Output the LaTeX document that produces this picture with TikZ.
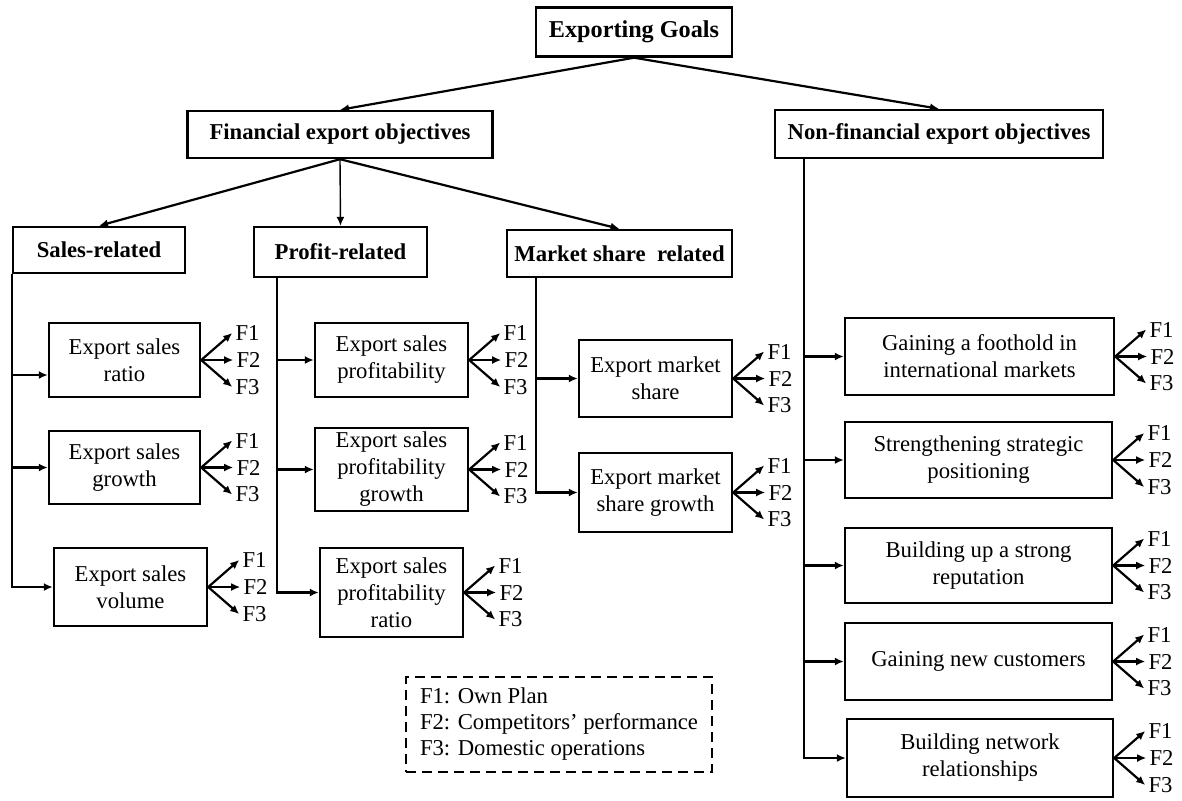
\documentclass[tikz,border=0pt]{standalone}
\usepackage{fontspec}
\setmainfont{Liberation Serif}
\usetikzlibrary{arrows.meta, positioning}

\begin{document}
\begin{tikzpicture}[
  x=0.5pt, y=-0.5pt,
  box/.style={
    rectangle,
    draw,
    line width=1.2pt,
    align=center,
    inner sep=2pt
  },
  head/.style={box, font=\bfseries\fontsize{11.35}{13.5}\selectfont},
  dims/.style 2 args={minimum width=#1*0.5pt, minimum height=#2*0.5pt},
  arrow/.style={-{Latex[length=4.5pt, width=4pt]}, line width=1.1pt},
  flabel/.style={anchor=west, inner sep=1.5pt},
  every node/.append style={font=\fontsize{11.35}{13.5}\selectfont}
]
\useasboundingbox (0,0) rectangle (1182,800);

% Top levels
\node[head, dims={196}{49}, font=\bfseries\fontsize{12.1}{14}\selectfont] (goals) at (634,32) {Exporting Goals};
\node[head, dims={305}{47}] (fin) at (340,134.5) {Financial export objectives};
\node[head, dims={328}{48}] (nonfin) at (939,134) {Non-financial export objectives};

% Financial groups
\node[head, dims={172}{46}] (sales) at (99,250) {Sales-related};
\node[head, dims={173}{50}] (profit) at (340.5,252) {Profit-related};
\node[head, dims={225}{47}] (market) at (619.5,253.5) {Market share~ related};

% Sales-related measures
\node[box, dims={151}{74}] (ratio) at (124.5,360) {Export sales\\ratio};
\node[box, dims={151}{73}] (sgrowth) at (124.5,467.5) {Export sales\\growth};
\node[box, dims={153}{78}] (volume) at (130.5,587) {Export sales\\volume};

% Profit-related measures
\node[box, dims={153}{74}] (profitab) at (391.5,360) {Export sales\\profitability};
\node[box, dims={153}{77}] (pgrowth) at (391.5,469.5) {Export sales\\profitability\\growth};
\node[box, dims={143}{89}] (pratio) at (391.5,592.5) {Export sales\\profitability\\ratio};

% Market share measures
\node[box, dims={153}{77}] (mshare) at (655.5,378.5) {Export market\\share};
\node[box, dims={153}{79}] (mgrowth) at (655.5,492.5) {Export market\\share growth};

% Non-financial measures
\node[box, dims={269}{77}] (foothold) at (979.5,356.5) {Gaining a foothold in\\international markets};
\node[box, dims={267}{76}] (strategic) at (978.5,460) {Strengthening strategic\\positioning};
\node[box, dims={267}{75}] (reputation) at (978.5,565.5) {Building up a strong\\reputation};
\node[box, dims={267}{77}] (customers) at (978.5,661.5) {Gaining new customers};
\node[box, dims={266}{78}] (network) at (980,758) {Building network\\relationships};

% Legend
\node[box, line width=1pt, dash pattern=on 5pt off 3pt, align=left, anchor=west, inner xsep=7pt,
  minimum height=47.5pt, font=\fontsize{11.35}{13}\selectfont] (legend) at (405,724.5)
  {F1: Own Plan\\F2: Competitors’ performance\\F3: Domestic operations};

% Arrows between levels
\draw[arrow] (goals.south) -- (fin.north);
\draw[arrow] (goals.south) -- (nonfin.north);
\draw[arrow] (fin.south) -- (sales.north);
\draw[arrow, line width=0.7pt] (fin.south) -- (profit.north);
\draw[arrow] (fin.south) -- (market.north);

% Trunk lines
\coordinate (ptrunk) at ([xshift=12pt]profit.south west);
\coordinate (mtrunk) at ([xshift=15pt]market.south west);
\coordinate (ntrunk) at ([xshift=15pt]nonfin.south west);

\draw[arrow] (sales.south west) |- (volume.west);
\draw[arrow] (sales.south west |- ratio.west) ++(0,15) -- ([yshift=-7.5pt]ratio.west);
\draw[arrow] (sales.south west |- sgrowth.west) -- (sgrowth.west);
\draw[arrow] (ptrunk) |- (pratio.west);
\foreach \n in {profitab, pgrowth} \draw[arrow] (ptrunk |- \n.west) -- (\n.west);
\draw[arrow] (mtrunk) |- (mgrowth.west);
\draw[arrow] (mtrunk |- mshare.west) -- (mshare.west);
\draw[arrow] (ntrunk) |- (network.west);
\foreach \n in {foothold, strategic, reputation, customers} \draw[arrow] (ntrunk |- \n.west) -- (\n.west);

% F1-F3 fans
\foreach \n in {ratio, sgrowth, volume, profitab, pgrowth, pratio, mshare, mgrowth,
                foothold, strategic, reputation, customers, network} {
  \node[flabel] (\n-f1) at ([shift={(31,-27)}]\n.east) {F1};
  \node[flabel] (\n-f2) at ([shift={(32,0)}]\n.east) {F2};
  \node[flabel] (\n-f3) at ([shift={(31,27)}]\n.east) {F3};
  \foreach \k in {1,2,3} \draw[arrow] (\n.east) -- (\n-f\k.west);
}

\end{tikzpicture}
\end{document}
